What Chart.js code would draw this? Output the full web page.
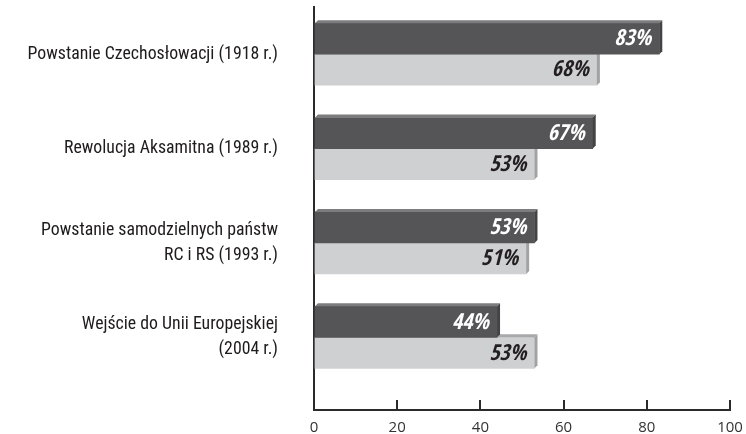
<!DOCTYPE html>
<html>
<head>
<meta charset="utf-8">
<script src="https://cdn.jsdelivr.net/npm/chart.js@4/dist/chart.umd.min.js"></script>
<style>
  html, body { margin: 0; padding: 0; background: #fff; }
  #wrap { width: 746px; height: 434px; position: relative; }
</style>
</head>
<body>
<div id="wrap"><canvas id="chart"></canvas></div>
<script>
  const categories = [
    ['Powstanie Czechosłowacji (1918 r.)'],
    ['Rewolucja Aksamitna (1989 r.)'],
    ['Powstanie samodzielnych państw', 'RC i RS (1993 r.)'],
    ['Wejście do Unii Europejskiej', '(2004 r.)'],
  ];
  const darkValues = [83, 67, 53, 44];
  const lightValues = [68, 53, 51, 53];
  const xTicks = [0, 20, 40, 60, 80, 100];

  // front / top / side colours for the fake 3D bars
  const faces = [
    { front: '#555557', top: '#7c7c7e', side: '#434345', text: '#ffffff' },
    { front: '#cfd0d2', top: '#a9a9ab', side: '#a2a2a4', text: '#231f20' },
  ];
  const depth = 3;

  const extrudePlugin = {
    id: 'extrude',
    afterDatasetDraw(chart, args) {
      const c = chart.ctx;
      const f = faces[args.index];
      const values = chart.data.datasets[args.index].data;
      c.save();
      args.meta.data.forEach((bar, i) => {
        const p = bar.getProps(['x', 'y', 'base', 'height'], true);
        const top = p.y - p.height / 2;
        const bottom = p.y + p.height / 2;
        c.fillStyle = f.top;
        c.beginPath();
        c.moveTo(p.base, top);
        c.lineTo(p.base + depth, top - depth);
        c.lineTo(p.x + depth, top - depth);
        c.lineTo(p.x, top);
        c.closePath();
        c.fill();
        c.fillStyle = f.side;
        c.beginPath();
        c.moveTo(p.x, top);
        c.lineTo(p.x + depth, top - depth);
        c.lineTo(p.x + depth, bottom - depth);
        c.lineTo(p.x, bottom);
        c.closePath();
        c.fill();
        c.fillStyle = f.text;
        c.font = 'italic bold 22px "Open Sans Condensed", "Roboto Condensed"';
        c.textAlign = 'right';
        c.textBaseline = 'middle';
        c.fillText(values[i].x + '%', p.x - 8, p.y + 1);
      });
      c.restore();
    },
  };

  const toPoints = (vals) => vals.map((v, i) => ({ x: v, y: i }));

  new Chart(document.getElementById('chart'), {
    type: 'bar',
    data: {
      datasets: [
        { data: toPoints(darkValues), backgroundColor: faces[0].front, barThickness: 31 },
        { data: toPoints(lightValues), backgroundColor: faces[1].front, barThickness: 31 },
      ],
    },
    options: {
      indexAxis: 'y',
      responsive: true,
      maintainAspectRatio: false,
      animation: false,
      layout: { padding: { top: 7, right: 16, bottom: 0, left: 0 } },
      plugins: { legend: { display: false }, tooltip: { enabled: false } },
      scales: {
        y: {
          type: 'linear',
          reverse: true,
          offset: false,
          min: -0.5,
          max: 3.77,
          afterBuildTicks: (s) => { s.ticks = categories.map((c, i) => ({ value: i })); },
          afterFit: (s) => { s.width = 314; s.paddingTop = 0; s.paddingBottom = 0; },
          border: { display: true, color: '#2b2b2b', width: 2 },
          grid: { display: false, drawTicks: false },
          ticks: {
            padding: 36,
            color: '#1e1b1c',
            font: { family: '"Roboto Condensed", "DejaVu Sans Condensed", sans-serif', size: 17.8, lineHeight: 1.4 },
            callback: (v) => categories[v],
          },
        },
        x: {
          min: 0,
          max: 100,
          afterBuildTicks: (s) => { s.ticks = xTicks.map((v) => ({ value: v })); },
          afterFit: (s) => { s.height = 24; s.paddingLeft = 0; s.paddingRight = 0; },
          border: { display: true, color: '#2b2b2b', width: 2 },
          grid: { drawOnChartArea: false, drawTicks: true, tickLength: -10, color: '#2b2b2b', lineWidth: 2 },
          ticks: {
            padding: 19,
            color: '#333',
            font: { family: '"Open Sans", sans-serif', size: 15 },
          },
        },
      },
    },
    plugins: [extrudePlugin],
  });
</script>
</body>
</html>
